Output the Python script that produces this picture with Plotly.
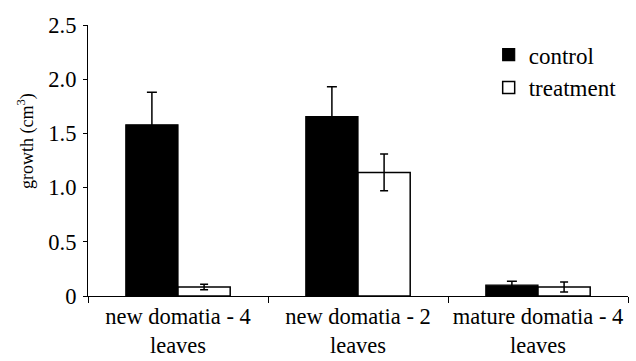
import plotly.graph_objects as go

categories = ["new domatia - 4<br>leaves", "new domatia - 2<br>leaves", "mature domatia - 4<br>leaves"]
control = [1.58, 1.655, 0.10]
control_err = [0.30, 0.275, 0.035]
treatment = [0.083, 1.14, 0.083]
treatment_err = [0.025, 0.17, 0.045]
y_ticks = [0, 0.5, 1.0, 1.5, 2.0, 2.5]
y_ticklabels = ["0", "0.5", "1.0", "1.5", "2.0", "2.5"]

FONT = "Liberation Serif"

fig = go.Figure()
fig.add_trace(go.Bar(
    x=categories, y=control, name="control",
    marker=dict(color="black", line=dict(color="black", width=1.2)),
    error_y=dict(type="data", array=control_err, visible=True, color="black", thickness=1.5, width=5),
    legendgroup="a",
))
fig.add_trace(go.Bar(
    x=categories, y=treatment, name="treatment",
    marker=dict(color="white", line=dict(color="black", width=1.5)),
    error_y=dict(type="data", array=treatment_err, visible=True, color="black", thickness=1.5, width=4),
    legendgroup="b",
))

fig.update_layout(
    width=636, height=361,
    margin=dict(l=88, r=8, t=25, b=65, autoexpand=False),
    paper_bgcolor="white", plot_bgcolor="white",
    barmode="group", bargap=0.42, bargroupgap=0,
    font=dict(family=FONT, color="black", size=22),
    showlegend=True,
    legend=dict(
        x=0.742, y=0.97, xanchor="left", yanchor="top",
        font=dict(family=FONT, size=23, color="black"),
        bgcolor="rgba(0,0,0,0)",
        traceorder="grouped", tracegroupgap=0,
    ),
    xaxis=dict(
        type="category", showline=True, linecolor="black", linewidth=1.2,
        ticks="outside", tickson="boundaries", ticklen=6, tickcolor="black", tickwidth=1.2,
        tickfont=dict(family=FONT, size=22.5, color="black"),
        ticklabelstandoff=0, automargin=False,
        showgrid=False, zeroline=False,
    ),
    yaxis=dict(
        range=[0, 2.5], tickvals=y_ticks, ticktext=y_ticklabels,
        showline=True, linecolor="black", linewidth=1.2,
        ticks="outside", ticklen=4, tickcolor="black", tickwidth=1.2,
        tickfont=dict(family=FONT, size=22.5, color="black"),
        ticklabelstandoff=2, automargin=False,
        showgrid=False, zeroline=False,
    ),
    annotations=[dict(
        text="growth (cm<sup>3</sup>)", textangle=-90,
        xref="paper", x=0, xanchor="center", xshift=-62,
        yref="y", y=1.43, yanchor="middle",
        showarrow=False, font=dict(family=FONT, size=18, color="black"),
    )],
)

fig.write_html("out.html")
